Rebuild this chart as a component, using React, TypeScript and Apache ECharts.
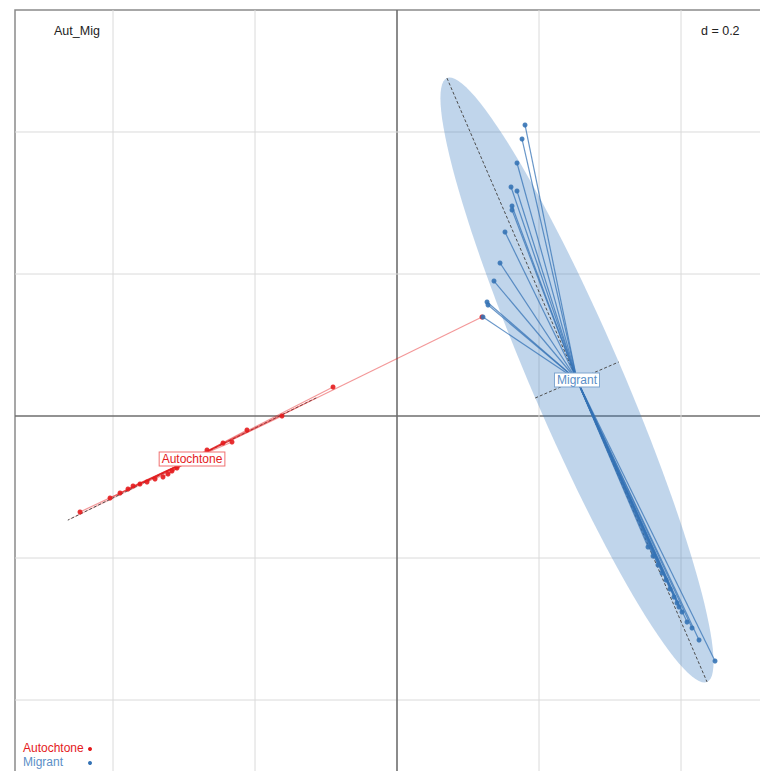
import React, { useEffect, useRef } from "react";
import * as echarts from "echarts";

// ---- data (in plot units; grid step d = 0.2) ----
const GROUPS = ["Autochtone", "Migrant"];
const GROUP_COLORS = ["#e41a1c", "#3573b5"];
const LINE_COLORS = ["rgba(228,26,28,0.45)", "rgba(53,115,181,0.75)"];
const LABEL_TEXT_COLORS = ["#e41a1c", "#5b8fc7"];

const AUT_X = [0.1197, -0.0901, -0.162, -0.2113, -0.2324, -0.2451, -0.2676, -0.2986, -0.3099, -0.3169, -0.3225, -0.3296, -0.3408, -0.3521, -0.362, -0.3718, -0.3789, -0.3901, -0.4042, -0.4465];
const AUT_Y = [0.1394, 0.0408, 0.0, -0.0197, -0.0366, -0.038, -0.0479, -0.0648, -0.0732, -0.0775, -0.0817, -0.0859, -0.0887, -0.093, -0.0958, -0.0986, -0.1028, -0.1085, -0.1155, -0.1352];

const MIG_X = [0.1803, 0.1761, 0.169, 0.1606, 0.169, 0.162, 0.162, 0.1521, 0.1451, 0.1366, 0.1268, 0.1282, 0.1211, 0.4479, 0.4254, 0.4155, 0.4085, 0.4014, 0.3972, 0.3944, 0.3901, 0.3845, 0.3789, 0.3732, 0.3676, 0.3606, 0.3535];
const MIG_Y = [0.4099, 0.3901, 0.3563, 0.3225, 0.3169, 0.2958, 0.2901, 0.2592, 0.2155, 0.1901, 0.1606, 0.1563, 0.1394, -0.3451, -0.3155, -0.2986, -0.2901, -0.2761, -0.269, -0.2634, -0.2549, -0.2437, -0.231, -0.2211, -0.2099, -0.1972, -0.1845];

const CENTER_X = [-0.2887, 0.2535];
const CENTER_Y = [-0.0606, 0.0507];
const ELL_MAJOR = [0.195, 0.463];
const ELL_MINOR = [0.0015, 0.064];
const ELL_ANGLE = [26.2, 113.3]; // degrees

const GRID_TICKS = [-0.4, -0.2, 0, 0.2, 0.4];
const X_RANGE = [-0.53803, 0.53239];
const Y_RANGE = [-0.51408, 0.57183];
const TITLE = "Aut_Mig";
const D_LABEL = "d = 0.2";

const FONT = "Liberation Sans, Arial, sans-serif";

export default function App() {
  const ref = useRef<HTMLDivElement>(null);

  useEffect(() => {
    if (!ref.current) return;
    const chart = echarts.init(ref.current, undefined, { renderer: "svg" });

    const groupX = [AUT_X, MIG_X];
    const groupY = [AUT_Y, MIG_Y];

    const starData: number[][] = [];
    const pointSeries: any[] = [];
    GROUPS.forEach((g, gi) => {
      const xs = groupX[gi];
      const ys = groupY[gi];
      xs.forEach((x, i) => {
        starData.push([CENTER_X[gi], CENTER_Y[gi], x, ys[i], gi]);
      });
      pointSeries.push({
        type: "scatter",
        name: g,
        z: 5,
        symbolSize: 5,
        itemStyle: { color: GROUP_COLORS[gi], opacity: 0.9 },
        data: xs.map((x, i) => [x, ys[i]]),
      });
    });

    const option: any = {
      animation: false,
      grid: {
        left: 15,
        top: 10,
        width: 760,
        height: 771,
        show: true,
        borderColor: "#8a8a8a",
        borderWidth: 1.5,
        backgroundColor: "transparent",
      },
      xAxis: { type: "value", min: X_RANGE[0], max: X_RANGE[1], show: false },
      yAxis: { type: "value", min: Y_RANGE[0], max: Y_RANGE[1], show: false },
      series: [
        {
          type: "custom",
          z: 1,
          silent: true,
          data: GRID_TICKS.map((t) => [t, t]),
          renderItem: (params: any, api: any) => {
            const t = api.value(0);
            const isZero = Math.abs(t) < 1e-9;
            const style = {
              stroke: isZero ? "#6e6e6e" : "#dadada",
              lineWidth: isZero ? 1.6 : 1,
            };
            const a = api.coord([t, Y_RANGE[0]]);
            const b = api.coord([t, Y_RANGE[1]]);
            const c = api.coord([X_RANGE[0], t]);
            const d = api.coord([X_RANGE[1], t]);
            return {
              type: "group",
              children: [
                { type: "line", shape: { x1: a[0], y1: a[1], x2: b[0], y2: b[1] }, style },
                { type: "line", shape: { x1: c[0], y1: c[1], x2: d[0], y2: d[1] }, style },
              ],
            };
          },
        },
        {
          type: "custom",
          z: 2,
          silent: true,
          data: GROUPS.map((_, gi) => [CENTER_X[gi], CENTER_Y[gi], gi]),
          renderItem: (params: any, api: any) => {
            const gi = api.value(2);
            const cx = CENTER_X[gi];
            const cy = CENTER_Y[gi];
            const th = (ELL_ANGLE[gi] * Math.PI) / 180;
            const ux = Math.cos(th), uy = Math.sin(th);
            const vx = -Math.sin(th), vy = Math.cos(th);
            const A = ELL_MAJOR[gi], B = ELL_MINOR[gi];
            const pts: number[][] = [];
            for (let k = 0; k < 120; k++) {
              const t = (k / 120) * Math.PI * 2;
              const px = cx + A * Math.cos(t) * ux + B * Math.sin(t) * vx;
              const py = cy + A * Math.cos(t) * uy + B * Math.sin(t) * vy;
              pts.push(api.coord([px, py]));
            }
            const m1 = api.coord([cx + A * ux, cy + A * uy]);
            const m2 = api.coord([cx - A * ux, cy - A * uy]);
            const n1 = api.coord([cx + B * vx, cy + B * vy]);
            const n2 = api.coord([cx - B * vx, cy - B * vy]);
            const dash = { stroke: "#4d4d4d", lineWidth: 1, lineDash: [3, 2] };
            const fill = gi === 1 ? "rgba(48,115,188,0.3)" : "rgba(228,26,28,0.3)";
            return {
              type: "group",
              children: [
                { type: "polygon", shape: { points: pts }, style: { fill, stroke: "none" } },
                { type: "line", shape: { x1: m1[0], y1: m1[1], x2: m2[0], y2: m2[1] }, style: dash },
                { type: "line", shape: { x1: n1[0], y1: n1[1], x2: n2[0], y2: n2[1] }, style: dash },
              ],
            };
          },
        },
        {
          type: "custom",
          z: 3,
          silent: true,
          data: starData,
          renderItem: (params: any, api: any) => {
            const p1 = api.coord([api.value(0), api.value(1)]);
            const p2 = api.coord([api.value(2), api.value(3)]);
            const gi = api.value(4);
            return {
              type: "line",
              shape: { x1: p1[0], y1: p1[1], x2: p2[0], y2: p2[1] },
              style: { stroke: LINE_COLORS[gi], lineWidth: 1.2 },
            };
          },
        },
        ...pointSeries,
        {
          type: "custom",
          z: 6,
          silent: true,
          data: GROUPS.map((_, gi) => [CENTER_X[gi], CENTER_Y[gi], gi]),
          renderItem: (params: any, api: any) => {
            const gi = api.value(2);
            const p = api.coord([api.value(0), api.value(1)]);
            return {
              type: "text",
              x: p[0],
              y: p[1],
              style: {
                text: GROUPS[gi],
                align: "center",
                verticalAlign: "middle",
                fill: LABEL_TEXT_COLORS[gi],
                font: `12px ${FONT}`,
                backgroundColor: "#ffffff",
                borderColor: gi === 0 ? "#f07070" : "#7fa6cf",
                borderWidth: 1,
                padding: [1, 2, 0, 2],
              },
            };
          },
        },
      ],
      graphic: [
        {
          type: "text",
          left: 54,
          top: 24,
          style: { text: TITLE, fill: "#222", font: `12.5px ${FONT}` },
        },
        {
          type: "text",
          left: 701,
          top: 24,
          style: { text: D_LABEL, fill: "#222", font: `12.5px ${FONT}` },
        },
        {
          type: "text",
          left: 23,
          top: 742,
          style: { text: GROUPS[0], fill: GROUP_COLORS[0], font: `12px ${FONT}` },
        },
        { type: "circle", shape: { cx: 90, cy: 749, r: 2 }, style: { fill: GROUP_COLORS[0] } },
        {
          type: "text",
          left: 23,
          top: 756,
          style: { text: GROUPS[1], fill: LABEL_TEXT_COLORS[1], font: `12px ${FONT}` },
        },
        { type: "circle", shape: { cx: 90, cy: 763, r: 2 }, style: { fill: GROUP_COLORS[1] } },
      ],
    };

    chart.setOption(option);
    return () => chart.dispose();
  }, []);

  return (
    <div
      style={{ position: "fixed", left: 0, top: 0, width: 760, height: 771, overflow: "hidden", background: "#fff" }}
    >
      <div ref={ref} style={{ width: 800, height: 800 }} />
    </div>
  );
}
